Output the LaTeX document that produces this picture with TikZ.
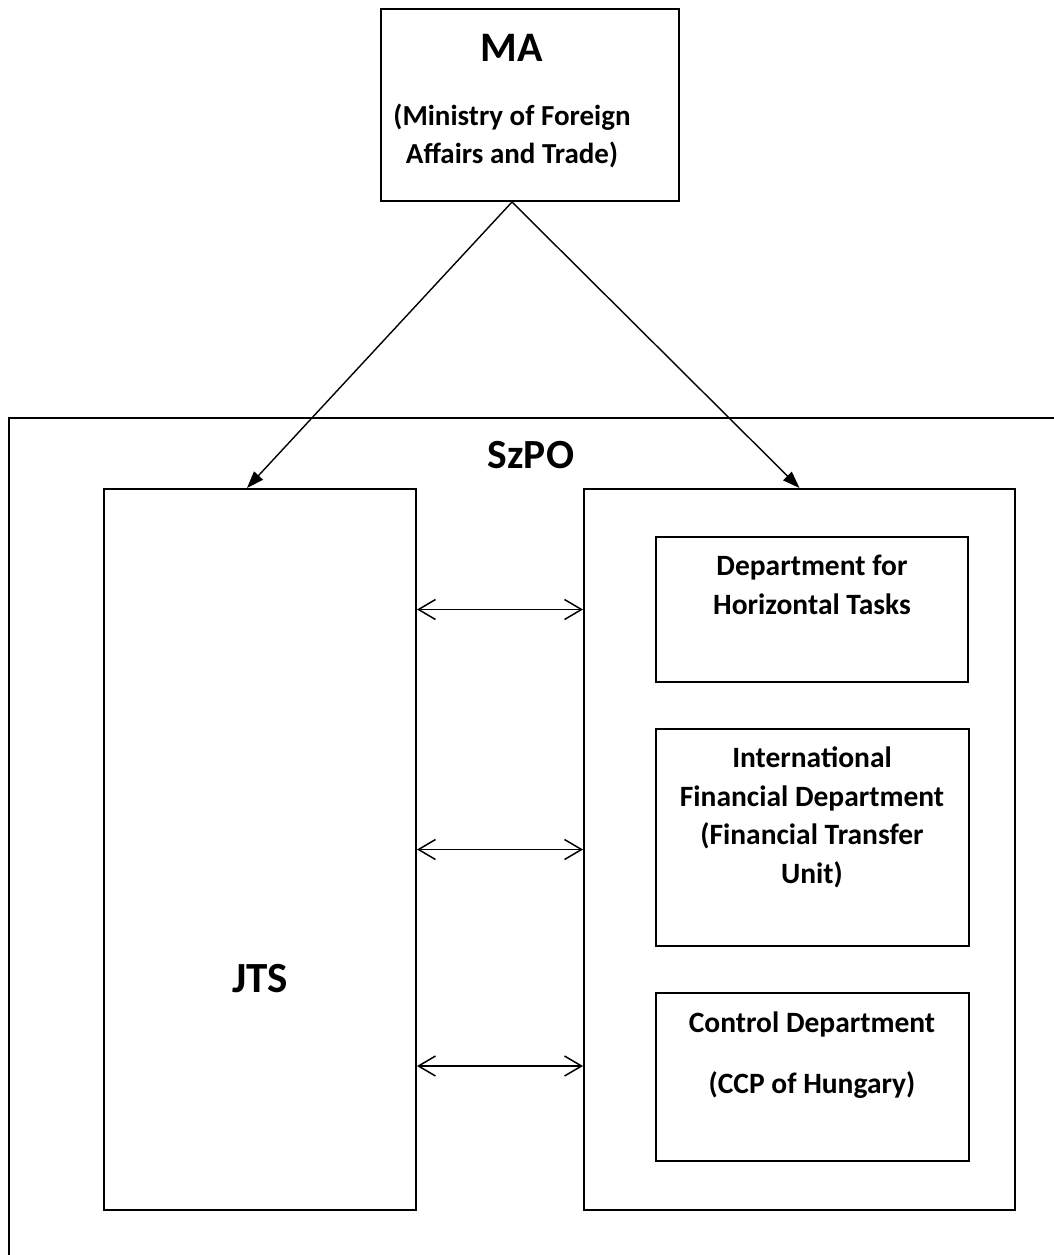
\documentclass[tikz,border=0pt]{standalone}
\usepackage{fontspec}
\setmainfont{Carlito}
\usetikzlibrary{arrows.meta,positioning}
\newcommand{\myDeptFont}{\bfseries\fontsize{29.5}{38.5}\selectfont}
\newcommand{\myBigFont}{\bfseries\fontsize{41.5}{48}\selectfont}

\begin{document}
\begin{tikzpicture}[x=1pt,y=-1pt,
	Box/.style={rectangle,draw=black,line width=2pt,inner sep=0pt},
	Edge/.style={-{Triangle[length=17pt,width=12pt]},black,line width=1.4pt},
	Link/.style={{Straight Barb[length=17pt,width=20pt]}-{Straight Barb[length=17pt,width=20pt]},black,line width=1.5pt},
	DeptText/.style={font=\myDeptFont,align=center,anchor=base,inner sep=0pt},
	BigText/.style={font=\myBigFont,anchor=base,inner sep=0pt},
]
	\useasboundingbox (0,0) rectangle (1054,1255);
	\clip (0,0) rectangle (1054,1255);

	\node[Box, minimum width=298pt, minimum height=192pt] (MA) at (530,105){};
	\node[Box, minimum width=1070pt, minimum height=900pt, anchor=north west] (SzPO) at (8,417){};
	\node[Box, minimum width=312pt, minimum height=721pt] (JTS) at (260,849.5){};
	\node[Box, minimum width=431pt, minimum height=721pt] (Unit) at (799.5,849.5){};
	\node[Box, minimum width=312pt, minimum height=145pt] (Hor) at (812,609.5){};
	\node[Box, minimum width=313pt, minimum height=217pt] (Fin) at (812.5,837.5){};
	\node[Box, minimum width=313pt, minimum height=168pt] (Ctrl) at (812.5,1077){};

	% base of a multi-line text is its last line
	\node[BigText, font=\bfseries\fontsize{42}{48}\selectfont] (MAName) at (512,62){MA};
	\node[DeptText, font=\bfseries\fontsize{29}{38}\selectfont] (MAFull) at (512,163){(Ministry of Foreign\\Affairs and Trade)};
	\node[BigText] (SzPOName) at (531,468){SzPO};
	\node[BigText, font=\bfseries\fontsize{43}{48}\selectfont] (JTSName) at (260,992){JTS};
	\node[DeptText] (HorName) at (812,614){Department for\\Horizontal Tasks};
	\node[DeptText] (FinName) at (812,883){International\\Financial Department\\(Financial Transfer\\Unit)};
	\node[DeptText] (CtrlName) at (812,1093){Control Department\\[22.5pt](CCP of Hungary)};

	\coordinate (Apex) at ([xshift=-18pt]MA.south);
	\coordinate (JTSTop) at ([xshift=-13pt]JTS.north);

	\path[Edge]
	(Apex) edge (JTSTop)
	(Apex) edge (Unit.north)
	;
	\path[Link]
	(JTS.east |- Hor.west) edge (Unit.west |- Hor.west)
	(JTS.east) edge (Unit.west)
	(JTS.east |- 0,1066) edge (Unit.west |- 0,1066)
	;
\end{tikzpicture}
\end{document}
